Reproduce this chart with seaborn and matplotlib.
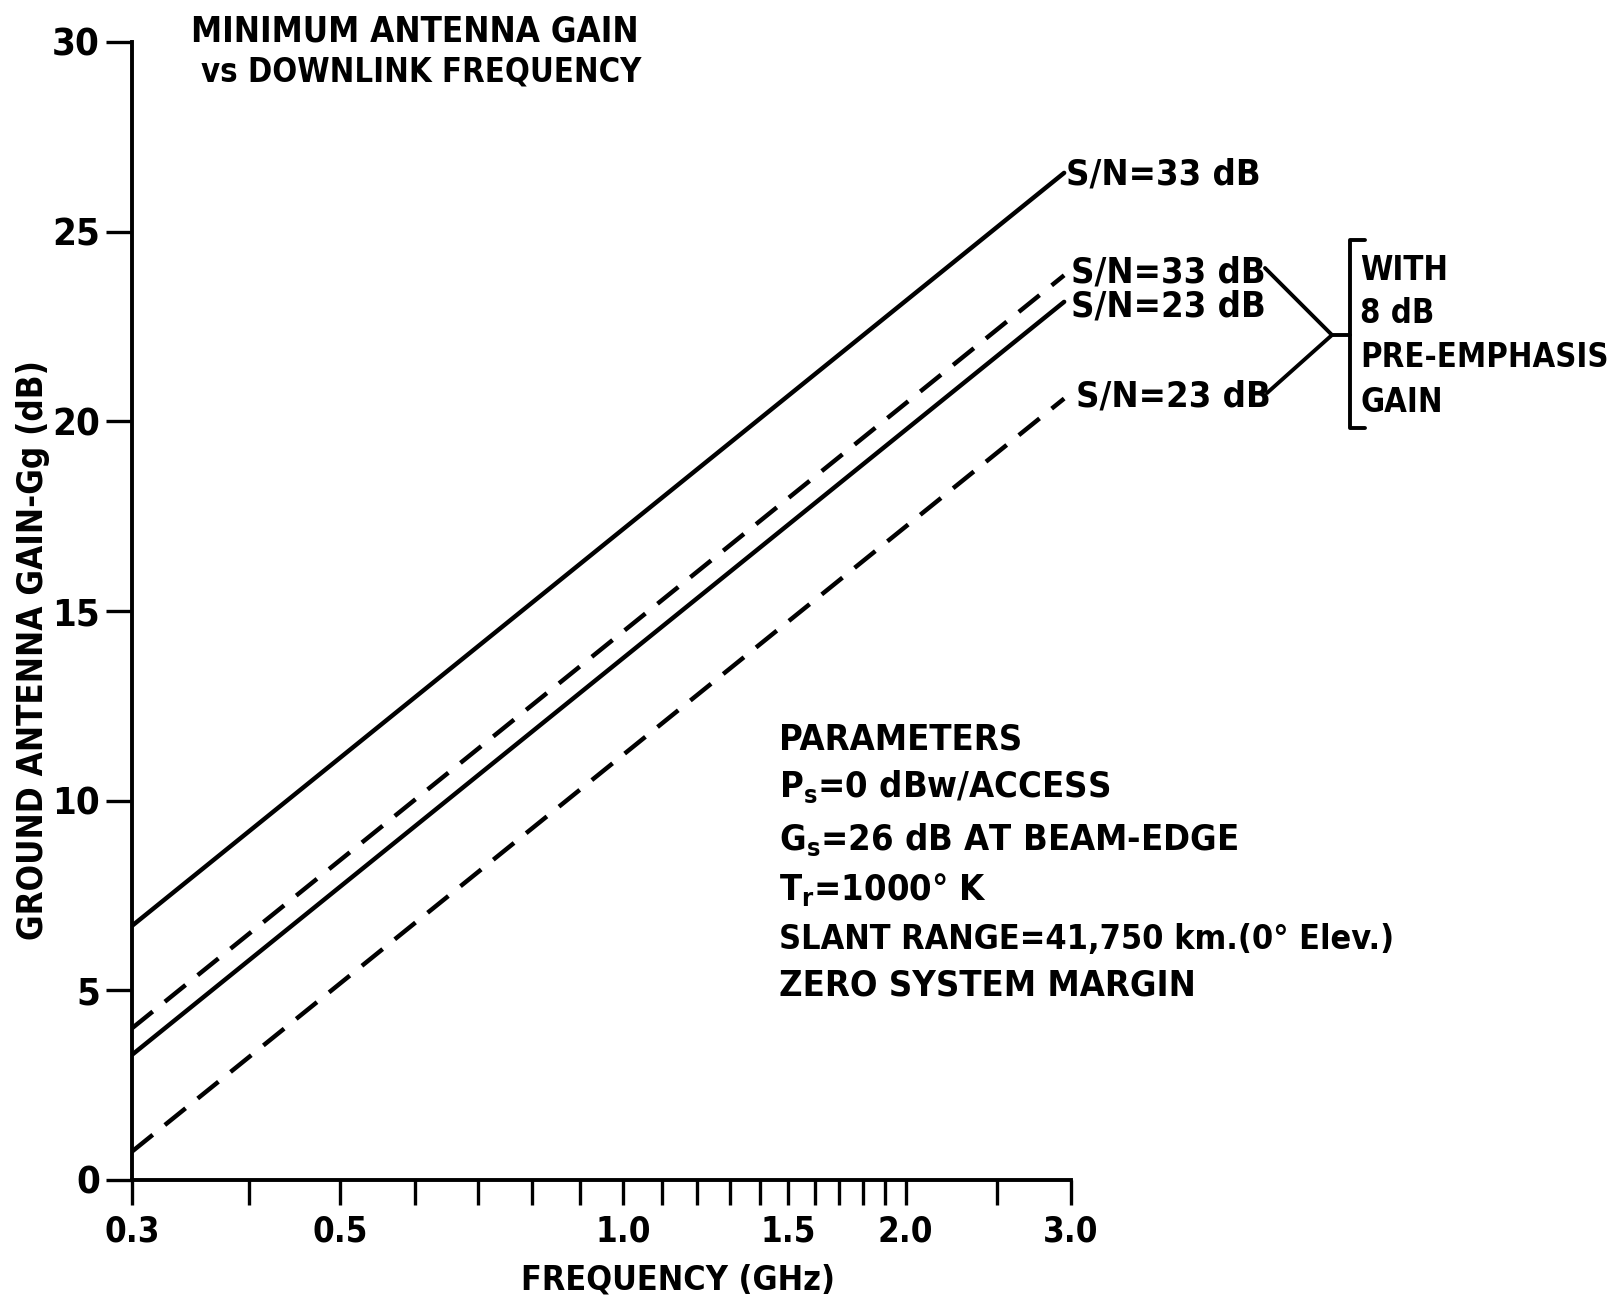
import matplotlib
matplotlib.use('Agg')
import matplotlib.pyplot as plt
from matplotlib.lines import Line2D
import pandas as pd
import seaborn as sns

sns.set_theme(style='ticks')
plt.rcParams['font.family'] = ['DejaVu Sans']
plt.rcParams['font.stretch'] = 'condensed'
plt.rcParams['font.weight'] = 'bold'
plt.rcParams['mathtext.fontset'] = 'custom'
plt.rcParams['mathtext.rm'] = 'DejaVu Sans:bold'

# values (dB at start / end frequency)
freq_ghz = [0.3, 2.95]
sn33_plain = [6.7, 26.55]
sn33_pre = [4.0, 23.85]
sn23_plain = [3.3, 23.15]
sn23_pre = [0.75, 20.6]

curve_names = ['S/N=33 dB', 'S/N=33 dB (pre)', 'S/N=23 dB', 'S/N=23 dB (pre)']
curve_pre = [False, True, False, True]
curve_vals = [sn33_plain, sn33_pre, sn23_plain, sn23_pre]

x_ticks = [0.3, 0.4, 0.5, 0.6, 0.7, 0.8, 0.9, 1.0, 1.1, 1.2, 1.3, 1.4, 1.5,
           1.6, 1.7, 1.8, 1.9, 2.0, 2.5, 3.0]
x_labeled = {0.3: '0.3', 0.5: '0.5', 1.0: '1.0', 1.5: '1.5', 2.0: '2.0', 3.0: '3.0'}
y_ticks = [0, 5, 10, 15, 20, 25, 30]

title_lines = ['MINIMUM ANTENNA GAIN', 'vs DOWNLINK FREQUENCY']
param_lines = ['PARAMETERS',
               r'$\mathregular{P_s}$=0 dBw/ACCESS',
               r'$\mathregular{G_s}$=26 dB AT BEAM-EDGE',
               r'$\mathregular{T_r}$=1000° K',
               'SLANT RANGE=41,750 km.(0° Elev.)',
               'ZERO SYSTEM MARGIN']
bracket_lines = ['WITH', '8 dB', 'PRE-EMPHASIS', 'GAIN']

rows = []
for name, pre, vals in zip(curve_names, curve_pre, curve_vals):
    for f, g in zip(freq_ghz, vals):
        rows.append({'freq': f, 'gain': g, 'curve': name, 'pre': pre})
df = pd.DataFrame(rows)

W, H = 1623, 1300
fig = plt.figure(figsize=(W / 100, H / 100), dpi=100)
ax = fig.add_axes([132 / W, 1 - 1180 / H, 939 / W, (1180 - 42) / H])


def px(x, y):
    return x / W, 1 - y / H


sns.lineplot(data=df, x='freq', y='gain', units='curve', estimator=None,
             style='pre', dashes={False: '', True: (6, 3.5)}, color='black',
             lw=3.2, legend=False, ax=ax)
for line in ax.get_lines():
    line.set_dash_capstyle('butt')

ax.set_xscale('log')
ax.set_xlim(0.3, 3.0)
ax.set_ylim(0, 30)
ax.set_xticks(x_ticks)
ax.set_xticklabels([x_labeled.get(t, '') for t in x_ticks])
ax.xaxis.set_minor_locator(matplotlib.ticker.NullLocator())
ax.set_yticks(y_ticks)
ax.set_yticklabels([str(t) for t in y_ticks])
ax.tick_params(axis='x', length=18, width=2.4, pad=7, labelsize=25,
               color='black', labelcolor='black')
ax.tick_params(axis='y', length=19, width=2.4, pad=4, labelsize=27.5,
               color='black', labelcolor='black')
ax.set_xlabel('')
ax.set_ylabel('')
sns.despine(ax=ax)
for s in ['left', 'bottom']:
    ax.spines[s].set_linewidth(2.8)
    ax.spines[s].set_color('black')
ax.patch.set_alpha(0)

txt = dict(color='black', fontweight='bold')
fig.text(*px(678, 1280), 'FREQUENCY (GHz)', ha='center', va='center', fontsize=24.5, **txt)
fig.text(*px(33, 650), 'GROUND ANTENNA GAIN-Gg (dB)', ha='center', va='center',
         rotation=90, fontsize=25, **txt)

title_sizes = [25, 23.5]
for i, t in enumerate(title_lines):
    fig.text(*px(191 + 10 * i, 32 + 40 * i), t, ha='left', va='center',
             fontsize=title_sizes[i], **txt)

param_y = [739, 787, 840, 890, 940, 985]
param_sizes = [26, 26, 26, 26, 24.5, 26]
for t, y, s in zip(param_lines, param_y, param_sizes):
    fig.text(*px(779, y), t, ha='left', va='center', fontsize=s, **txt)

curve_label_pos = [(1066, 174), (1071, 272), (1071, 306), (1076, 396)]
for name, (lx, ly) in zip(curve_names, curve_label_pos):
    fig.text(*px(lx, ly), name.replace(' (pre)', ''), ha='left', va='center',
             fontsize=26, **txt)

for i, t in enumerate(bracket_lines):
    fig.text(*px(1360, 270 + 44 * i), t, ha='left', va='center', fontsize=23.5, **txt)

segs = [[(1265, 268), (1332, 335)], [(1267, 393), (1332, 335)], [(1332, 335), (1350, 335)],
        [(1365, 240), (1350, 240), (1350, 428), (1365, 428)]]
for seg in segs:
    xs = [px(*p)[0] for p in seg]
    ys = [px(*p)[1] for p in seg]
    fig.add_artist(Line2D(xs, ys, color='black', lw=2.8, transform=fig.transFigure))

fig.savefig('out.png', dpi=100, facecolor='white')
